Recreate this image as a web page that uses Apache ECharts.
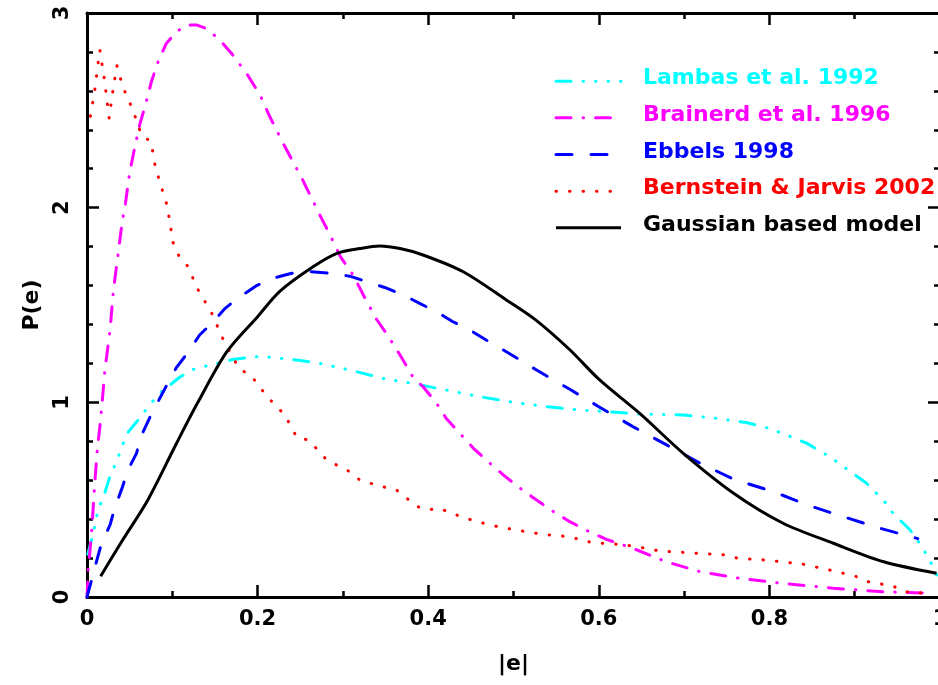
<!DOCTYPE html>
<html>
<head>
<meta charset="utf-8">
<script src="https://cdn.jsdelivr.net/npm/echarts@6/dist/echarts.min.js"></script>
<style>
  html, body { margin: 0; padding: 0; background: #ffffff; }
  #chart { width: 938px; height: 685px; }
</style>
</head>
<body>
<div id="chart"></div>
<script>
// Ellipticity distributions P(e) as a function of |e|
const seriesNames = [
  'Lambas et al. 1992',
  'Brainerd et al. 1996',
  'Ebbels 1998',
  'Bernstein & Jarvis 2002',
  'Gaussian based model'
];

const lambas = [[0.001,0.22],[0.0075,0.33],[0.013,0.45],[0.019,0.51],[0.027,0.62],[0.035,0.70],[0.041,0.77],[0.047,0.84],[0.06,0.91],[0.074,0.99],[0.086,1.05],[0.109,1.13],[0.125,1.17],[0.152,1.20],[0.171,1.22],[0.195,1.234],[0.215,1.232],[0.246,1.217],[0.273,1.20],[0.308,1.166],[0.347,1.123],[0.382,1.097],[0.421,1.063],[0.46,1.029],[0.50,1.0],[0.539,0.978],[0.578,0.96],[0.60,0.955],[0.648,0.94],[0.699,0.935],[0.738,0.918],[0.773,0.896],[0.80,0.866],[0.82,0.832],[0.844,0.789],[0.871,0.72],[0.887,0.669],[0.914,0.584],[0.937,0.481],[0.945,0.43],[0.965,0.344],[0.976,0.276],[0.988,0.19],[0.996,0.113]];

const brainerd = [[0,0],[0.0015,0.14],[0.0055,0.34],[0.0094,0.60],[0.012,0.755],[0.016,0.91],[0.021,1.166],[0.027,1.37],[0.031,1.577],[0.037,1.78],[0.041,1.92],[0.045,2.02],[0.05,2.18],[0.056,2.31],[0.062,2.43],[0.068,2.52],[0.076,2.655],[0.084,2.757],[0.093,2.844],[0.105,2.904],[0.117,2.938],[0.129,2.938],[0.14,2.92],[0.156,2.86],[0.171,2.784],[0.187,2.69],[0.203,2.578],[0.214,2.47],[0.23,2.33],[0.252,2.15],[0.273,1.962],[0.287,1.842],[0.297,1.748],[0.312,1.654],[0.326,1.534],[0.34,1.423],[0.351,1.354],[0.367,1.243],[0.382,1.131],[0.394,1.08],[0.41,0.994],[0.421,0.918],[0.437,0.841],[0.453,0.764],[0.468,0.704],[0.488,0.627],[0.508,0.558],[0.527,0.498],[0.547,0.438],[0.566,0.387],[0.589,0.335],[0.609,0.296],[0.64,0.25],[0.679,0.181],[0.719,0.13],[0.765,0.096],[0.816,0.07],[0.875,0.045],[0.933,0.027],[0.992,0.019]];

const ebbels = [[0,0],[0.011,0.18],[0.017,0.276],[0.027,0.37],[0.033,0.464],[0.041,0.558],[0.048,0.652],[0.058,0.738],[0.064,0.832],[0.074,0.926],[0.084,1.01],[0.095,1.10],[0.105,1.18],[0.119,1.26],[0.132,1.346],[0.148,1.414],[0.162,1.483],[0.179,1.542],[0.199,1.60],[0.218,1.637],[0.24,1.663],[0.263,1.671],[0.285,1.663],[0.308,1.648],[0.328,1.62],[0.349,1.59],[0.371,1.551],[0.39,1.508],[0.41,1.465],[0.429,1.414],[0.449,1.371],[0.468,1.32],[0.488,1.269],[0.508,1.217],[0.527,1.166],[0.547,1.115],[0.566,1.067],[0.601,0.975],[0.64,0.875],[0.68,0.78],[0.719,0.687],[0.758,0.605],[0.805,0.541],[0.844,0.473],[0.887,0.412],[0.93,0.353],[0.974,0.30]];

const bernstein = [[0.004,2.47],[0.009,2.60],[0.015,2.81],[0.020,2.67],[0.026,2.46],[0.030,2.59],[0.035,2.73],[0.042,2.62],[0.054,2.50],[0.064,2.37],[0.075,2.34],[0.080,2.21],[0.089,2.08],[0.094,2.01],[0.101,1.82],[0.108,1.75],[0.118,1.70],[0.13,1.58],[0.146,1.46],[0.159,1.33],[0.171,1.23],[0.179,1.17],[0.192,1.14],[0.211,1.03],[0.232,0.935],[0.246,0.82],[0.26,0.806],[0.281,0.704],[0.308,0.644],[0.32,0.60],[0.347,0.566],[0.362,0.553],[0.386,0.467],[0.398,0.447],[0.413,0.455],[0.442,0.407],[0.472,0.37],[0.503,0.344],[0.534,0.322],[0.565,0.31],[0.595,0.276],[0.611,0.276],[0.64,0.262],[0.672,0.236],[0.719,0.224],[0.748,0.216],[0.763,0.199],[0.795,0.19],[0.824,0.176],[0.84,0.168],[0.87,0.139],[0.9,0.108],[0.915,0.079],[0.945,0.056],[0.958,0.027],[0.974,0.027],[0.99,0.0]];

const gaussian = [[0.016,0.107],[0.04,0.28],[0.0715,0.50],[0.105,0.79],[0.13,1.0],[0.164,1.26],[0.2,1.44],[0.226,1.57],[0.265,1.696],[0.293,1.765],[0.32,1.79],[0.343,1.803],[0.367,1.79],[0.394,1.757],[0.441,1.671],[0.492,1.525],[0.527,1.42],[0.566,1.27],[0.601,1.115],[0.648,0.943],[0.699,0.738],[0.758,0.533],[0.816,0.379],[0.875,0.276],[0.934,0.181],[0.996,0.122]];

// Line look for each curve: colour and dash pattern (pixels)
const styles = [
  { color: '#00ffff', dash: [15, 12, 0.5, 12, 0.5, 12, 0.5, 12] },
  { color: '#ff00ff', dash: [15, 12, 0.5, 12] },
  { color: '#0000ff', dash: [16, 19] },
  { color: '#ff0000', dash: [0.5, 13] },
  { color: '#000000', dash: null }
];
const curves = [lambas, brainerd, ebbels, bernstein, gaussian];

const axisFont = "'DejaVu Sans', sans-serif";

const chart = echarts.init(document.getElementById('chart'), null, { renderer: 'canvas' });

function frameAxis(extra) {
  return Object.assign({
    type: 'value',
    axisLine: { show: true, onZero: false, lineStyle: { color: '#000', width: 3 } },
    axisTick: { show: true, inside: true, length: 12, lineStyle: { color: '#000', width: 2.5 } },
    splitLine: { show: false },
    minorSplitLine: { show: false }
  }, extra);
}

const xCommon = { min: 0, max: 1, interval: 0.2 };
const yCommon = { min: 0, max: 3, interval: 1 };
const minorX = { show: true, splitNumber: 2, length: 6, lineStyle: { color: '#000', width: 2.5 } };
const minorY = { show: true, splitNumber: 5, length: 6, lineStyle: { color: '#000', width: 2.5 } };
const labelStyle = { color: '#000', fontFamily: axisFont, fontWeight: 'bold', fontSize: 21, hideOverlap: false };
const nameStyle = { color: '#000', fontFamily: axisFont, fontWeight: 'bold', fontSize: 22 };

// Legend block in the upper right
const legendRow0 = 86.7, legendStep = 36.65;
const graphics = [];
styles.forEach((s, i) => {
  const base = legendRow0 + i * legendStep;
  graphics.push({
    type: 'line',
    shape: { x1: 556, y1: base - 5.5, x2: 621, y2: base - 5.5 },
    style: { stroke: s.color, lineWidth: 3, lineDash: s.dash || null, lineCap: s.dash ? 'round' : 'butt' },
    silent: true
  });
  graphics.push({
    type: 'text',
    x: 643, y: base - 8,
    style: {
      text: seriesNames[i], fill: s.color,
      font: 'bold 22px ' + axisFont,
      verticalAlign: 'middle'
    },
    silent: true
  });
});

const option = {
  animation: false,
  backgroundColor: '#ffffff',
  grid: { left: 87, top: 13, width: 853, height: 584, containLabel: false, outerBoundsMode: 'none' },
  xAxis: [
    frameAxis(Object.assign({
      position: 'bottom',
      name: '|e|', nameLocation: 'middle', nameGap: 56,
      nameTextStyle: nameStyle,
      minorTick: minorX,
      axisLabel: Object.assign({ show: true, margin: 12 }, labelStyle)
    }, xCommon)),
    frameAxis(Object.assign({
      position: 'top',
      minorTick: minorX,
      axisLabel: { show: false }
    }, xCommon))
  ],
  yAxis: [
    frameAxis(Object.assign({
      position: 'left',
      name: 'P(e)', nameLocation: 'middle', nameGap: 44, nameRotate: 90,
      nameTextStyle: nameStyle,
      minorTick: minorY,
      axisLabel: Object.assign({ show: true, rotate: 90, margin: 14 }, labelStyle)
    }, yCommon)),
    frameAxis(Object.assign({
      position: 'right',
      minorTick: minorY,
      axisLabel: { show: false }
    }, yCommon))
  ],
  series: curves.map((data, i) => ({
    name: seriesNames[i],
    type: 'line',
    xAxisIndex: 0, yAxisIndex: 0,
    data: data,
    showSymbol: false,
    symbol: 'none',
    smooth: i === 4 ? 0.3 : false,
    clip: true,
    silent: true,
    lineStyle: {
      color: styles[i].color,
      width: 3,
      type: styles[i].dash || 'solid',
      cap: styles[i].dash ? 'round' : 'butt',
      join: 'round'
    },
    z: 2 + i
  })),
  graphic: graphics
};

chart.setOption(option);
</script>
</body>
</html>
